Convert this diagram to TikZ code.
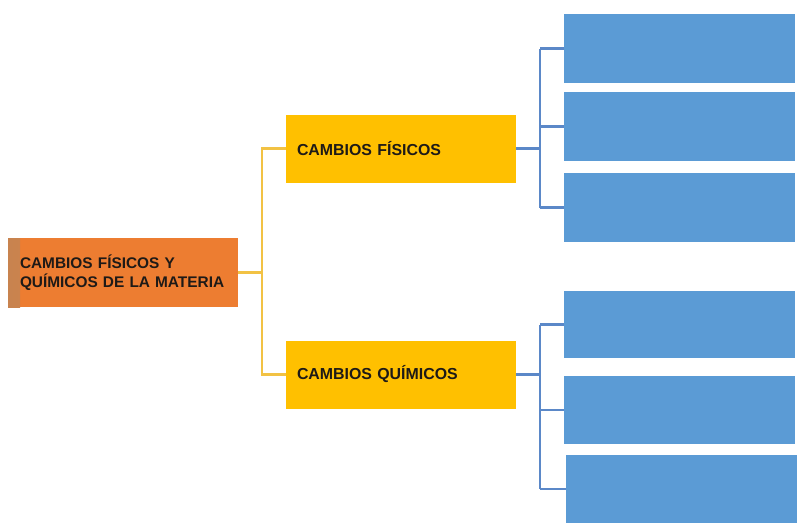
\documentclass[tikz,border=0pt]{standalone}
\usepackage{fontspec}
\setmainfont{Liberation Sans}
\definecolor{orangebox}{HTML}{ED7D31}
\definecolor{orangestrip}{HTML}{C8834F}
\definecolor{yellowbox}{HTML}{FFC000}
\definecolor{bluebox}{HTML}{5B9BD5}
\definecolor{yline}{HTML}{F2C244}
\definecolor{bline}{HTML}{5B88C8}
\definecolor{txt}{HTML}{1E1A17}
\begin{document}
\begin{tikzpicture}[x=1pt,y=-1pt,
  every node/.style={inner sep=0pt, outer sep=0pt},
  orangenode/.style={fill=orangebox, minimum width=230pt, minimum height=69pt, text width=206pt, align=left, text=txt, font=\fontsize{15.4}{19.5}\selectfont\bfseries,
    path picture={
      \shade[left color=orangestrip, right color=orangebox] (path picture bounding box.north west) rectangle ([xshift=12pt]path picture bounding box.south west);
      \fill[orangestrip] (path picture bounding box.north west) rectangle ([xshift=5pt]path picture bounding box.south west);
    }},
  yellownode/.style={fill=yellowbox, minimum width=230pt, minimum height=68pt, text width=208pt, align=left, text=txt, font=\fontsize{15.9}{19}\selectfont\bfseries},
  bluenode/.style={fill=bluebox, minimum width=231pt, minimum height=68pt},
  yconn/.style={draw=yline, line width=2.4pt},
  bconn/.style={draw=bline, line width=2.2pt}]
\useasboundingbox (0,0) rectangle (800,528);
\fill[white] (0,0) rectangle (800,528);
% main node
\node[orangenode] (main) at (123,272.5) {CAMBIOS FÍSICOS Y\\QUÍMICOS DE LA MATERIA};
% level 2
\node[yellownode] (fis) at (401,148.5) {CAMBIOS FÍSICOS};
\node[yellownode] (qui) at (401,374.5) {CAMBIOS QUÍMICOS};
% level 3
\node[bluenode, minimum height=69pt] (b1) at (679.5,48.5) {};
\node[bluenode, minimum height=69pt] (b2) at (679.5,126.5) {};
\node[bluenode, minimum height=69pt] (b3) at (679.5,207.5) {};
\node[bluenode, minimum height=67pt] (b4) at (679.5,324.5) {};
\node[bluenode] (b5) at (679.5,410) {};
\node[bluenode] (b6) at (681,489) {};
% yellow connectors
\coordinate (ym) at (262,272.5);
\draw[yconn] (main.east) -- (ym);
\draw[yconn] (ym) |- (fis.west);
\draw[yconn] (ym) |- (qui.west);
% blue connectors top
\coordinate (bf) at (540,148.5);
\draw[bconn] (fis.east) -- (bf);
\draw[bconn] (bf |- b1.west) -- (bf |- b3.west);
\draw[bconn] (bf |- b1.west) -- (b1.west);
\draw[bconn] (bf |- b2.west) -- (b2.west);
\draw[bconn] (bf |- b3.west) -- (b3.west);
% blue connectors bottom
\coordinate (bq) at (540,374.5);
\draw[bconn] (qui.east) -- (bq);
\draw[bconn] (bq |- b4.west) -- (bq |- b6.west);
\draw[bconn] (bq |- b4.west) -- (b4.west);
\draw[bconn] (bq |- b5.west) -- (b5.west);
\draw[bconn] (bq |- b6.west) -- (b6.west);
\end{tikzpicture}
\end{document}
